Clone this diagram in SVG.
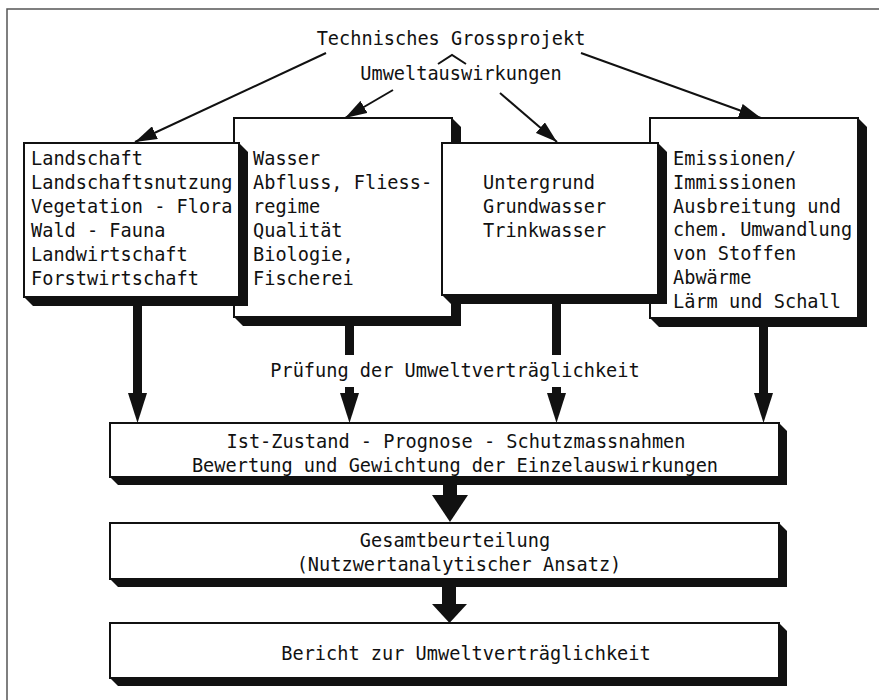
<svg xmlns="http://www.w3.org/2000/svg" width="879" height="700" viewBox="0 0 879 700">
<defs>
<style>
.t{font-family:"DejaVu Sans Mono","Liberation Mono",monospace;font-size:18.6px;fill:#111}
.c{text-anchor:middle}
.box{fill:#fff;stroke:#111;stroke-width:2}
.sh{fill:#111}
.thin{stroke:#111;stroke-width:2;fill:none}
.frame{stroke:#555;stroke-width:1.5;fill:none}
</style>
<marker id="ah" markerUnits="userSpaceOnUse" markerWidth="24" markerHeight="14" refX="22" refY="7" orient="auto"><path d="M0,0 L22,7 L0,14 z" fill="#111"/></marker>
</defs>
<rect width="879" height="700" fill="#fff"/>
<path class="frame" d="M7,700 V9 H879"/>

<g id="title">
<text class="t c" x="451" y="45">Technisches Grossprojekt</text>
<text class="t c" x="461" y="80">Umweltauswirkungen</text>
<polyline class="thin" points="438,64 452,55 466,64"/>
</g>

<g id="wasser">
<polygon class="sh" points="452,118 461,127 461,326 243,326 234,317"/>
<rect class="box" x="234" y="118" width="218" height="199"/>
<text class="t" x="253" y="165"><tspan x="253">Wasser</tspan><tspan x="253" dy="24">Abfluss, Fliess-</tspan><tspan x="253" dy="24">regime</tspan><tspan x="253" dy="24">Qualität</tspan><tspan x="253" dy="24">Biologie,</tspan><tspan x="253" dy="24">Fischerei</tspan></text>
</g>

<g id="emissionen">
<polygon class="sh" points="858,118 867,127 867,327 659,327 650,318"/>
<rect class="box" x="650" y="118" width="208" height="200"/>
<text class="t" x="673" y="165"><tspan x="673">Emissionen/</tspan><tspan x="673" dy="23.8">Immissionen</tspan><tspan x="673" dy="23.8">Ausbreitung und</tspan><tspan x="673" dy="23.8">chem. Umwandlung</tspan><tspan x="673" dy="23.8">von Stoffen</tspan><tspan x="673" dy="23.8">Abwärme</tspan><tspan x="673" dy="23.8">Lärm und Schall</tspan></text>
</g>

<g id="landschaft">
<polygon class="sh" points="239,143 248,152 248,306 33,306 24,297"/>
<rect class="box" x="24" y="143" width="215" height="154"/>
<text class="t" x="31" y="165"><tspan x="31">Landschaft</tspan><tspan x="31" dy="24">Landschaftsnutzung</tspan><tspan x="31" dy="24">Vegetation - Flora</tspan><tspan x="31" dy="24">Wald - Fauna</tspan><tspan x="31" dy="24">Landwirtschaft</tspan><tspan x="31" dy="24">Forstwirtschaft</tspan></text>
</g>

<g id="untergrund">
<polygon class="sh" points="658,143 667,152 667,304 451,304 442,295"/>
<rect class="box" x="442" y="143" width="216" height="152"/>
<text class="t" x="483" y="189"><tspan x="483">Untergrund</tspan><tspan x="483" dy="24">Grundwasser</tspan><tspan x="483" dy="24">Trinkwasser</tspan></text>
</g>

<g id="pruefung">
<text class="t c" x="455" y="377">Prüfung der Umweltverträglichkeit</text>
</g>

<g id="ist">
<polygon class="sh" points="779,423 787,431 787,485 118,485 110,477"/>
<rect class="box" x="110" y="423" width="669" height="54"/>
<text class="t c" x="456" y="448">Ist-Zustand - Prognose - Schutzmassnahmen</text>
<text class="t c" x="455" y="472">Bewertung und Gewichtung der Einzelauswirkungen</text>
</g>

<g id="gesamt">
<polygon class="sh" points="779,523 787,531 787,587 118,587 110,579"/>
<rect class="box" x="110" y="523" width="669" height="56"/>
<text class="t c" x="455" y="547">Gesamtbeurteilung</text>
<text class="t c" x="459" y="571">(Nutzwertanalytischer Ansatz)</text>
</g>

<g id="bericht">
<polygon class="sh" points="779,623 787,631 787,686 118,686 110,678"/>
<rect class="box" x="110" y="623" width="669" height="55"/>
<text class="t c" x="466" y="660">Bericht zur Umweltverträglichkeit</text>
</g>

<g id="connectors">
<line class="thin" x1="326" y1="53" x2="135" y2="142" marker-end="url(#ah)"/>
<line class="thin" x1="393" y1="90" x2="345" y2="118" marker-end="url(#ah)"/>
<line class="thin" x1="500" y1="93" x2="557" y2="142" marker-end="url(#ah)"/>
<line class="thin" x1="581" y1="53" x2="761" y2="118" marker-end="url(#ah)"/>

<rect class="sh" x="133" y="306" width="9" height="88"/>
<polygon class="sh" points="128,393 147,393 137.5,423"/>

<rect class="sh" x="345" y="326" width="9" height="29"/>
<rect class="sh" x="345" y="387" width="9" height="7"/>
<polygon class="sh" points="340,393 359,393 349.5,423"/>

<rect class="sh" x="552" y="304" width="9" height="51"/>
<rect class="sh" x="552" y="387" width="9" height="7"/>
<polygon class="sh" points="547,393 566,393 556.5,423"/>

<rect class="sh" x="759" y="327" width="9" height="67"/>
<polygon class="sh" points="754,393 773,393 763.5,423"/>

<rect class="sh" x="443" y="485" width="14" height="11"/>
<polygon class="sh" points="432,495 468,495 450,522"/>

<rect class="sh" x="442" y="587" width="14" height="18"/>
<polygon class="sh" points="432,604 467,604 449.5,623"/>
</g>
</svg>
